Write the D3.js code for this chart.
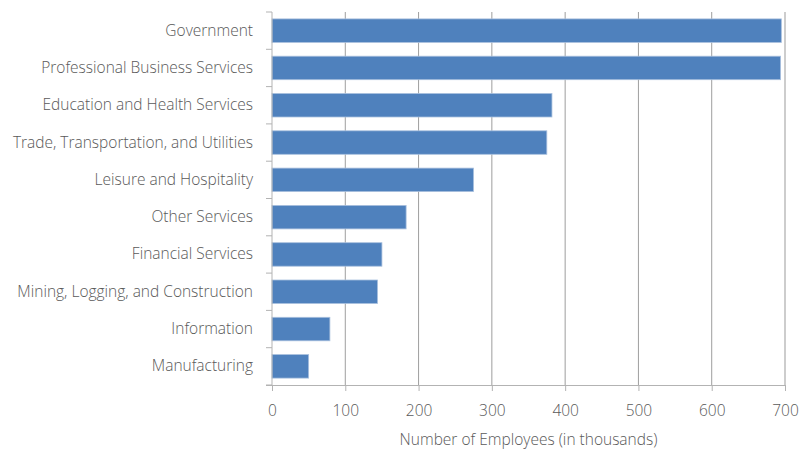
<!DOCTYPE html>
<html>
<head>
<meta charset="utf-8">
<script src="https://cdn.jsdelivr.net/npm/d3@7"></script>
<style>
  html, body { margin: 0; padding: 0; background: #fff; }
  svg text { font-family: "Open Sans", "Noto Sans", sans-serif; font-weight: 300; fill: #595959; }
</style>
</head>
<body>
<svg id="chart" width="800" height="450"></svg>
<script>
// Employment by industry sector (thousands of employees)
const categories = [
  "Government",
  "Professional Business Services",
  "Education and Health Services",
  "Trade, Transportation, and Utilities",
  "Leisure and Hospitality",
  "Other Services",
  "Financial Services",
  "Mining, Logging, and Construction",
  "Information",
  "Manufacturing"
];
const employees = [695, 694, 382, 375, 275, 183, 150, 144, 79, 50];
const xTicks = [0, 100, 200, 300, 400, 500, 600, 700];
const xTitle = "Number of Employees (in thousands)";

const svg = d3.select("#chart");
const margin = { top: 12, right: 15, bottom: 65, left: 272 };
const width = 800 - margin.left - margin.right;
const height = 450 - margin.top - margin.bottom;
const fontSize = 15.5;

const g = svg.append("g").attr("transform", `translate(${margin.left},${margin.top})`);

const x = d3.scaleLinear().domain([0, 700]).range([0, width]);
const y = d3.scaleBand().domain(categories).range([0, height]).paddingInner(0.37).paddingOuter(0.185);

// vertical gridlines
g.append("g")
  .selectAll("line")
  .data(xTicks.filter(t => t > 0))
  .join("line")
  .attr("x1", d => x(d)).attr("x2", d => x(d))
  .attr("y1", 0).attr("y2", height)
  .attr("stroke", d => d === 700 ? "#bdbdbd" : "#9e9e9e")
  .attr("stroke-width", d => d === 700 ? 1.5 : 1);

// bars
g.append("g")
  .selectAll("rect")
  .data(categories.map((c, i) => ({ c, v: employees[i] })))
  .join("rect")
  .attr("x", 0)
  .attr("y", d => y(d.c))
  .attr("width", d => x(d.v))
  .attr("height", y.bandwidth())
  .attr("fill", "#4f81bd")
  .attr("stroke", "#a9c0de")
  .attr("stroke-width", 0.8);

// category axis
const yAxis = g.append("g")
  .call(d3.axisLeft(y).tickSize(0).tickPadding(19));
yAxis.select(".domain").remove();
yAxis.selectAll("text").attr("font-size", fontSize).attr("fill", "#595959")
  .style("font-family", "'Open Sans', sans-serif").style("font-weight", 300);

// category boundary ticks
const bounds = d3.range(categories.length + 1).map(i => i * height / categories.length);
g.append("g")
  .selectAll("line")
  .data(bounds)
  .join("line")
  .attr("x1", -6).attr("x2", 0)
  .attr("y1", d => d).attr("y2", d => d)
  .attr("stroke", "#b3b3b3");
g.append("line")
  .attr("x1", 0).attr("x2", 0).attr("y1", 0).attr("y2", height)
  .attr("stroke", "#b3b3b3");

// value axis
const xAxis = g.append("g")
  .attr("transform", `translate(0,${height})`)
  .call(d3.axisBottom(x).tickValues(xTicks).tickSize(6).tickPadding(14).tickSizeOuter(0));
xAxis.select(".domain").attr("stroke", "#b3b3b3").attr("d", `M-6,0.5H${width}`);
xAxis.selectAll(".tick line").attr("stroke", "#b3b3b3");
xAxis.selectAll("text").attr("font-size", fontSize).attr("fill", "#595959")
  .style("font-family", "'Open Sans', sans-serif").style("font-weight", 300);

// axis title
g.append("text")
  .attr("x", width / 2)
  .attr("y", height + 60)
  .attr("text-anchor", "middle")
  .attr("font-size", fontSize)
  .text(xTitle);
</script>
</body>
</html>
